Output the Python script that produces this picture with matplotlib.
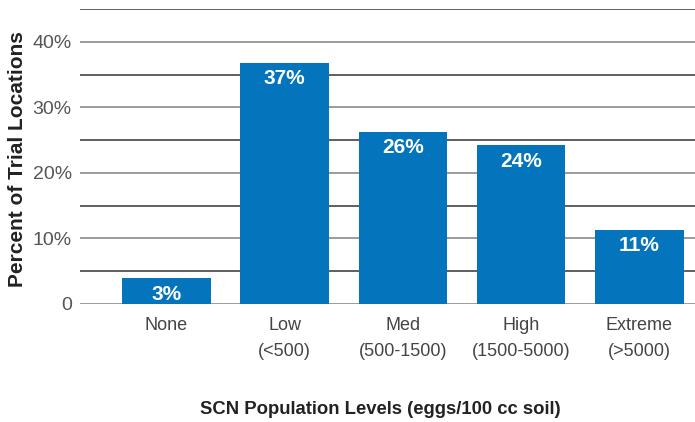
import matplotlib.pyplot as plt

# data
categories = ['None', 'Low\n(<500)', 'Med\n(500-1500)', 'High\n(1500-5000)', 'Extreme\n(>5000)']
percents = [3.9, 36.8, 26.3, 24.2, 11.3]
bar_labels = ['3%', '37%', '26%', '24%', '11%']
y_ticks = [0, 10, 20, 30, 40]
y_tick_labels = ['0', '10%', '20%', '30%', '40%']

plt.rcParams['font.family'] = ['Liberation Sans', 'DejaVu Sans']

fig = plt.figure(figsize=(6.95, 4.22), dpi=100)
ax = fig.add_axes([80 / 695, 1 - 304 / 422, 615 / 695, 295 / 422])

x = range(len(categories))
ax.bar(x, percents, width=0.75, color='#0474bd', zorder=3)

# gridlines every 5%
for g in range(0, 50, 5):
    col = '#8a8a8a' if g % 10 == 0 else '#444444'
    ax.axhline(g, color=col, lw=1.2, zorder=1)

for i, (v, lab) in enumerate(zip(percents, bar_labels)):
    ax.text(i, v - 0.95, lab, ha='center', va='top', color='white',
            fontsize=15, fontweight='bold', zorder=4)

ax.set_xlim(-0.73, 4.47)
ax.set_ylim(0, 45)
ax.set_xticks(list(x))
ax.set_xticklabels(categories, fontsize=13, color='#444444', linespacing=1.7)
ax.set_yticks(y_ticks)
ax.set_yticklabels(y_tick_labels, fontsize=14, color='#555555')
ax.tick_params(length=0, pad=6)
ax.tick_params(axis='x', pad=9)
for s in ax.spines.values():
    s.set_visible(False)

fig.text(18 / 695, 1 - 159 / 422, 'Percent of Trial Locations', rotation=90,
         ha='center', va='center', fontsize=15, fontweight='bold', color='#222222')
fig.text(380 / 695, 1 - 409 / 422, 'SCN Population Levels (eggs/100 cc soil)',
         ha='center', va='center', fontsize=13.3, fontweight='bold', color='#222222')

fig.savefig('out.png', dpi=100)
